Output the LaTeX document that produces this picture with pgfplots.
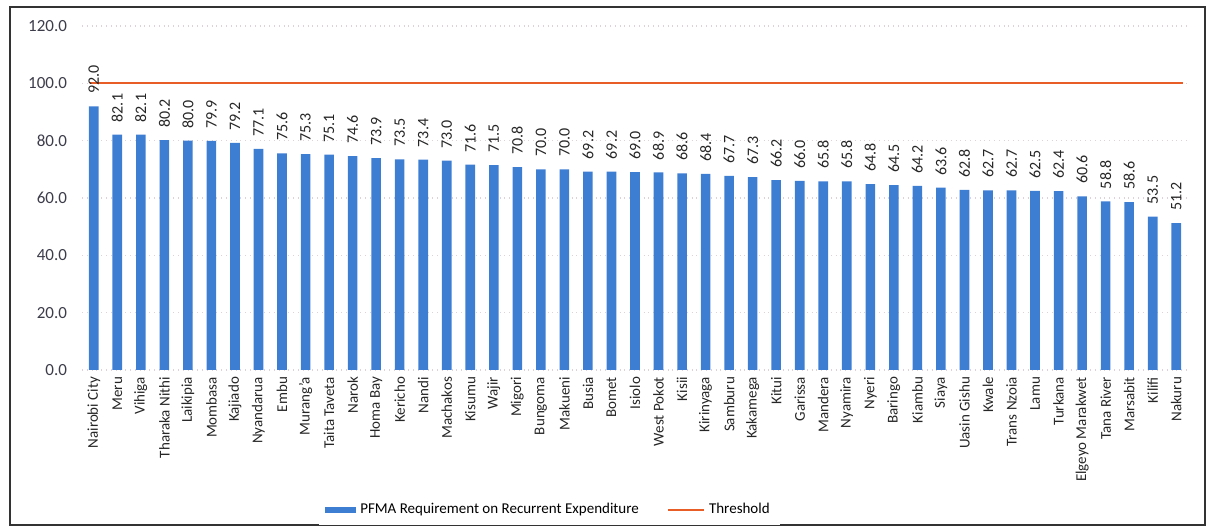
\documentclass[border=0pt]{standalone}
\usepackage{fontspec}
\setmainfont{Carlito}
\usepackage{pgfplots}
\usepackage{pgfplotstable}
\pgfplotsset{compat=1.18}
\definecolor{barblue}{RGB}{62,126,210}
\definecolor{thr}{RGB}{232,92,38}
\definecolor{tickgray}{RGB}{60,60,75}
\pgfplotstableread[col sep=comma]{
idx,name,val
0,Nairobi City,92.0
1,Meru,82.1
2,Vihiga,82.1
3,Tharaka Nithi,80.2
4,Laikipia,80.0
5,Mombasa,79.9
6,Kajiado,79.2
7,Nyandarua,77.1
8,Embu,75.6
9,Murang'a,75.3
10,Taita Taveta,75.1
11,Narok,74.6
12,Homa Bay,73.9
13,Kericho,73.5
14,Nandi,73.4
15,Machakos,73.0
16,Kisumu,71.6
17,Wajir,71.5
18,Migori,70.8
19,Bungoma,70.0
20,Makueni,70.0
21,Busia,69.2
22,Bomet,69.2
23,Isiolo,69.0
24,West Pokot,68.9
25,Kisii,68.6
26,Kirinyaga,68.4
27,Samburu,67.7
28,Kakamega,67.3
29,Kitui,66.2
30,Garissa,66.0
31,Mandera,65.8
32,Nyamira,65.8
33,Nyeri,64.8
34,Baringo,64.5
35,Kiambu,64.2
36,Siaya,63.6
37,Uasin Gishu,62.8
38,Kwale,62.7
39,Trans Nzoia,62.7
40,Lamu,62.5
41,Turkana,62.4
42,Elgeyo Marakwet,60.6
43,Tana River,58.8
44,Marsabit,58.6
45,Kilifi,53.5
46,Nakuru,51.2
}\data
\begin{document}
\begin{tikzpicture}
\useasboundingbox (0,0) rectangle (605pt,264.5pt);
\draw[black!80, line width=0.8pt] (5pt,2pt) rectangle (602.5pt,261pt);
\begin{axis}[
  at={(41pt,79.5pt)}, anchor=south west,
  scale only axis, width=553pt, height=172pt,
  xmin=-0.5, xmax=46.5, ymin=0, ymax=120,
  ytick={0,20,...,120},
  yticklabel style={/pgf/number format/fixed, /pgf/number format/fixed zerofill, /pgf/number format/precision=1, font=\fontsize{8.5}{10}\selectfont, text=tickgray, xshift=-4pt},
  /pgf/number format/assume math mode=true,
  xtick=data,
  xticklabels from table={\data}{name},
  xticklabel style={rotate=90, anchor=east, font=\fontsize{7.5}{9}\selectfont, text=black!85, yshift=0pt},
  major tick length=0pt,
  axis line style={draw=none},
  ymajorgrids, grid style={dotted, line width=0.6pt, color=magenta!15!gray!35},
  legend style={at={(0.4227,-0.407)}, anchor=center, draw=none, legend columns=2, font=\fontsize{7.5}{9}\selectfont, /tikz/every even column/.append style={column sep=12pt}},
  clip=false,
]
\addplot[ybar, bar width=4.8pt, fill=barblue, draw=none,
  nodes near coords,
  nodes near coords style={/pgf/number format/fixed, /pgf/number format/fixed zerofill, /pgf/number format/precision=1, /pgf/number format/assume math mode=true},
  every node near coord/.append style={rotate=90, anchor=west, font=\fontsize{8}{9}\selectfont, text=black!85, inner xsep=6pt, inner ysep=1pt},
  legend image code/.code={\fill[barblue] (0pt,-1.6pt) rectangle (15.5pt,1.6pt);}
] table[x=idx, y=val] {\data};
\addlegendentry{PFMA Requirement on Recurrent Expenditure}
\addplot[thr, line width=1.1pt, mark=none, sharp plot,
  legend image code/.code={\draw[thr, line width=1.1pt] (0pt,0pt) -- (18pt,0pt);}
] coordinates {(-0.15,100) (46.3,100)};
\addlegendentry{Threshold}
\end{axis}
\end{tikzpicture}
\end{document}
